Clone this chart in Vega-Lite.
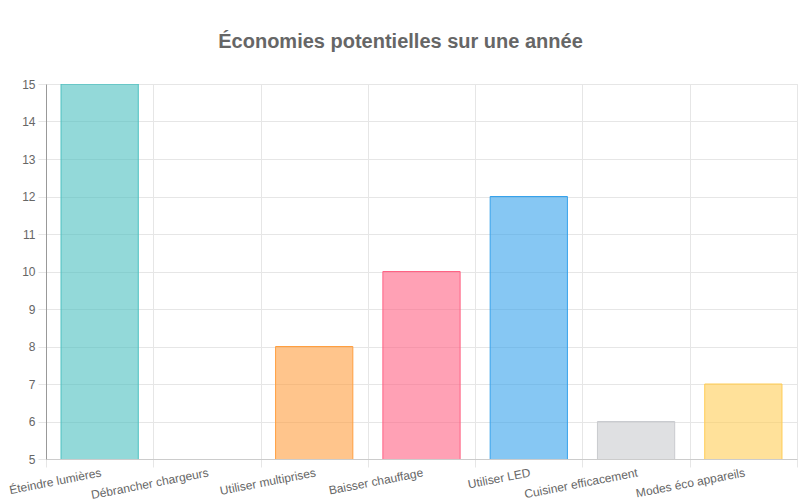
{
  "$schema": "https://vega.github.io/schema/vega-lite/v6.json",
  "autosize": "none",
  "width": 751,
  "height": 375,
  "padding": {"left": 46, "top": 84, "right": 3, "bottom": 41},
  "background": "white",
  "title": {
    "text": "Économies potentielles sur une année",
    "font": "Liberation Sans",
    "fontSize": 20,
    "fontWeight": "bold",
    "color": "#666666",
    "anchor": "middle",
    "dx": -21,
    "offset": 26
  },
  "config": {
    "view": {"stroke": "#e6e6e6", "strokeWidth": 1},
    "axis": {
      "labelFont": "Liberation Sans",
      "labelFontSize": 12,
      "labelColor": "#666666",
      "gridColor": "#e6e6e6",
      "tickColor": "#e6e6e6",
      "title": null
    }
  },
  "data": {
    "values": [
      {"action": "Éteindre lumières", "economie": 15},
      {"action": "Débrancher chargeurs", "economie": 4},
      {"action": "Utiliser multiprises", "economie": 8},
      {"action": "Baisser chauffage", "economie": 10},
      {"action": "Utiliser LED", "economie": 12},
      {"action": "Cuisiner efficacement", "economie": 6},
      {"action": "Modes éco appareils", "economie": 7}
    ]
  },
  "mark": {"type": "bar", "clip": true, "fillOpacity": 0.6, "strokeWidth": 1, "width": {"band": 0.72}},
  "encoding": {
    "x": {
      "field": "action",
      "type": "nominal",
      "sort": null,
      "scale": {"paddingInner": 0, "paddingOuter": 0},
      "axis": {
        "labelAngle": -11,
        "labelAlign": "right",
        "labelBaseline": "top",
        "labelPadding": 0,
        "tickSize": 8,
        "tickBand": "extent",
        "grid": true,
        "domainColor": "#cccccc"
      }
    },
    "y": {
      "field": "economie",
      "type": "quantitative",
      "scale": {"domain": [5, 15], "zero": false, "nice": false},
      "axis": {
        "values": [5, 6, 7, 8, 9, 10, 11, 12, 13, 14, 15],
        "tickSize": 8,
        "labelPadding": 3,
        "grid": true,
        "domainColor": "#999999"
      }
    },
    "color": {
      "field": "action",
      "type": "nominal",
      "sort": null,
      "legend": null,
      "scale": {
        "domain": ["Éteindre lumières", "Débrancher chargeurs", "Utiliser multiprises", "Baisser chauffage", "Utiliser LED", "Cuisiner efficacement", "Modes éco appareils"],
        "range": ["rgb(75,192,192)", "rgb(153,102,255)", "rgb(255,159,64)", "rgb(255,99,132)", "rgb(54,162,235)", "rgb(201,203,207)", "rgb(255,205,86)"]
      }
    },
    "stroke": {
      "field": "action",
      "type": "nominal",
      "sort": null,
      "legend": null,
      "scale": {
        "domain": ["Éteindre lumières", "Débrancher chargeurs", "Utiliser multiprises", "Baisser chauffage", "Utiliser LED", "Cuisiner efficacement", "Modes éco appareils"],
        "range": ["rgb(75,192,192)", "rgb(153,102,255)", "rgb(255,159,64)", "rgb(255,99,132)", "rgb(54,162,235)", "rgb(201,203,207)", "rgb(255,205,86)"]
      }
    }
  }
}
